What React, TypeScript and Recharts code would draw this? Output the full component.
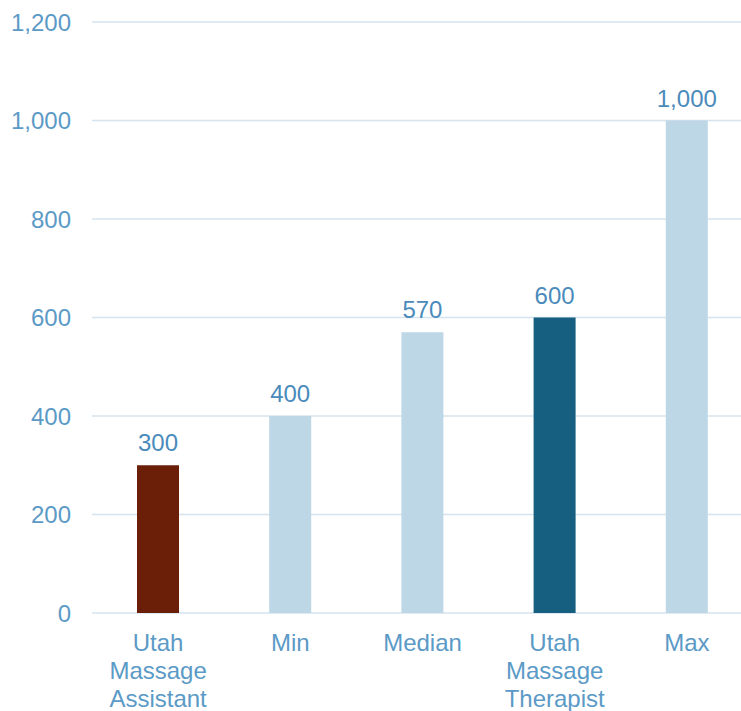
import React from 'react';
import { BarChart, Bar, XAxis, YAxis, CartesianGrid, Cell, LabelList } from 'recharts';

const categories = ['Utah Massage Assistant', 'Min', 'Median', 'Utah Massage Therapist', 'Max'];
const values = [300, 400, 570, 600, 1000];
const barColors = ['#6B1F08', '#BDD7E7', '#BDD7E7', '#175F80', '#BDD7E7'];
const yTicks = [0, 200, 400, 600, 800, 1000, 1200];

const data = categories.map((c, i) => ({ name: c, value: values[i] }));

const FONT = 'Liberation Sans, Arial, sans-serif';
const TICK_COLOR = '#5B9AC6';
const LABEL_COLOR = '#4A8BBB';

const fmt = (v: number) => v.toLocaleString('en-US');

const XTick = (props: any) => {
  const { x, y, payload } = props;
  const lines = String(payload.value).split(' ');
  return (
    <text x={x} y={y} textAnchor="middle" fill={TICK_COLOR} fontSize={24} fontFamily={FONT}>
      {lines.map((l: string, i: number) => (
        <tspan key={i} x={x} dy={i === 0 ? 37.5 : 28.3}>{l}</tspan>
      ))}
    </text>
  );
};

export default function App() {
  return (
    <div style={{ position: 'fixed', left: 0, top: 0, width: 741, height: 711, overflow: 'hidden', background: '#fff' }}>
      <BarChart width={758} height={711} data={data} margin={{ top: 22, right: 5, bottom: 8, left: 8 }}>
        <CartesianGrid vertical={false} stroke="#D5E3EE" strokeWidth={1.5} />
        <XAxis dataKey="name" axisLine={false} tickLine={false} tickSize={0} tickMargin={0} height={90} interval={0} tick={<XTick />} />
        <YAxis
          width={84}
          domain={[0, 1200]}
          ticks={yTicks}
          axisLine={false}
          tickLine={false}
          tickSize={0}
          tickMargin={21}
          tickFormatter={fmt}
          tick={{ fill: TICK_COLOR, fontSize: 24, fontFamily: FONT }}
        />
        <Bar dataKey="value" barSize={42} isAnimationActive={false}>
          {data.map((d, i) => (
            <Cell key={i} fill={barColors[i]} />
          ))}
          <LabelList dataKey="value" position="top" offset={14} formatter={(v: any) => fmt(Number(v))} fill={LABEL_COLOR} fontSize={24} fontFamily={FONT} />
        </Bar>
      </BarChart>
    </div>
  );
}
